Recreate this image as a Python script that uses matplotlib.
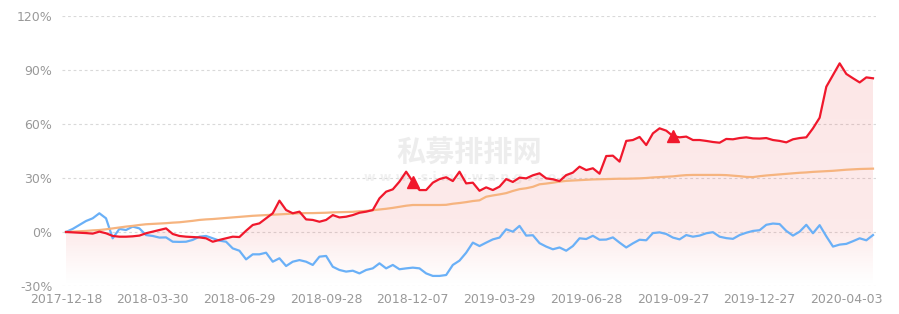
import numpy as np
import matplotlib
matplotlib.use('Agg')
import matplotlib.pyplot as plt
from matplotlib.patches import Polygon

# weekly cumulative returns (%)
fund = [
    0, -0.2, -0.4, -0.6, -0.9, 0.2, -0.7, -2.2, -2.6, -2.6,
    -2.4, -2.0, -0.7, 0.2, 1.1, 2.0, -1.1, -2.2, -2.6, -2.8,
    -3.0, -3.5, -5.4, -4.4, -3.5, -2.6, -2.8, 0.7, 3.9, 4.8,
    7.6, 10.4, 17.4, 12.2, 10.4, 11.3, 7.0, 6.7, 5.7, 6.7,
    9.4, 8.1, 8.5, 9.4, 10.7, 11.3, 12.2, 18.7, 22.4, 23.7,
    28.0, 33.5, 28.0, 23.3, 23.3, 27.4, 29.4, 30.4, 28.3, 33.5,
    27.0, 27.4, 22.9, 24.8, 23.3, 25.2, 29.4, 27.8, 30.2, 29.8,
    31.5, 32.6, 29.8, 29.3, 28.3, 31.6, 33.0, 36.3, 34.4, 35.4,
    32.4, 42.2, 42.4, 39.1, 50.6, 51.1, 52.8, 48.3, 54.8, 57.6,
    56.3, 53.3, 52.6, 53.0, 51.1, 51.1, 50.6, 50.0, 49.6, 51.7,
    51.5, 52.2, 52.6, 52.0, 51.9, 52.2, 51.1, 50.6, 49.8, 51.5,
    52.2, 52.6, 57.6, 63.5, 80.7, 87.2, 93.7, 87.8, 85.4, 83.1,
    85.9, 85.4]

index_ret = [
    0, 1.7, 3.9, 6.1, 7.6, 10.4, 7.6, -3.5, 1.7, 1.1,
    3.0, 2.0, -1.7, -2.2, -3.1, -3.0, -5.4, -5.5, -5.4, -4.4,
    -2.6, -2.2, -3.5, -4.8, -5.4, -9.1, -10.4, -15.2, -12.4, -12.4,
    -11.5, -16.5, -14.6, -18.9, -16.5, -15.6, -16.5, -18.3, -13.7, -13.3,
    -19.3, -21.1, -22.0, -21.5, -23.0, -21.1, -20.2, -17.4, -20.2, -18.3,
    -20.7, -20.2, -19.8, -20.2, -23.0, -24.4, -24.4, -23.9, -18.3, -15.9,
    -11.5, -5.9, -7.8, -5.9, -4.1, -3.1, 1.5, 0.2, 3.4, -2.0,
    -1.8, -6.2, -8.1, -9.6, -8.6, -10.4, -7.8, -3.5, -3.9, -2.1,
    -4.3, -4.2, -3.0, -5.9, -8.6, -6.3, -4.3, -4.6, -0.6, -0.2,
    -1.1, -3.1, -4.1, -1.7, -2.6, -2.0, -0.7, -0.1, -2.6, -3.4,
    -3.8, -1.7, -0.4, 0.6, 1.0, 4.0, 4.7, 4.4, 0.6, -2.0,
    0.2, 4.0, -0.7, 3.8, -2.4, -8.1, -7.0, -6.6, -5.1, -3.5,
    -4.6, -1.7]

bench = [
    0, 0.2, 0.4, 0.6, 0.9, 1.1, 1.5, 2.0, 2.5, 3.0,
    3.4, 3.9, 4.3, 4.5, 4.7, 4.9, 5.2, 5.4, 5.8, 6.2,
    6.7, 7.0, 7.2, 7.5, 7.8, 8.1, 8.4, 8.7, 9.0, 9.2,
    9.4, 9.6, 9.8, 10.0, 10.2, 10.4, 10.5, 10.5, 10.6, 10.7,
    10.9, 11.0, 11.1, 11.2, 11.5, 11.7, 12.1, 12.5, 12.9, 13.4,
    14.0, 14.6, 15.0, 15.0, 15.0, 15.0, 15.0, 15.1, 15.7, 16.1,
    16.6, 17.2, 17.6, 19.6, 20.3, 20.9, 21.6, 22.8, 23.8, 24.3,
    25.1, 26.5, 26.9, 27.4, 28.0, 28.4, 28.6, 28.8, 29.0, 29.2,
    29.3, 29.4, 29.5, 29.6, 29.6, 29.7, 29.8, 30.0, 30.3, 30.5,
    30.7, 30.9, 31.3, 31.6, 31.7, 31.7, 31.7, 31.7, 31.7, 31.6,
    31.3, 31.0, 30.6, 30.5, 31.0, 31.4, 31.7, 32.0, 32.3, 32.6,
    32.9, 33.1, 33.4, 33.6, 33.8, 34.0, 34.3, 34.6, 34.8, 35.0,
    35.1, 35.2]

date_labels = ['2017-12-18', '2018-03-30', '2018-06-29', '2018-09-28', '2018-12-07',
               '2019-03-29', '2019-06-28', '2019-09-27', '2019-12-27', '2020-04-03']
label_step = 13
buy_points = [52, 91]

yticks = [-30, 0, 30, 60, 90, 120]

RED = '#f0182c'
BLUE = '#6ab0f7'
ORANGE = '#f6b47f'
GREY = '#999999'

n = len(fund)
idx = np.arange(n)
fund = np.array(fund)

fig = plt.figure(figsize=(8.99, 3.14), dpi=100)
ax = fig.add_axes([62/899, 28/314, (876-62)/899, (286-16)/314])

# gradient area under the fund line
verts = np.column_stack([np.r_[idx, idx[::-1]], np.r_[fund, np.full(n, -30.0)]])
poly = Polygon(verts, closed=True, facecolor='none', edgecolor='none')
ax.add_patch(poly)
yy = np.linspace(-30, fund.max(), 300)
alpha = np.where(yy >= 0, 0.12 + 0.02 * yy / fund.max(), 0.12 * np.clip((yy + 30) / 30, 0, 1) ** 1.2)
grad = np.zeros((len(yy), 2, 4))
grad[..., 0] = 0.93
grad[..., 1] = 0.32
grad[..., 2] = 0.32
grad[..., 3] = alpha[:, None]
im = ax.imshow(grad, extent=[idx[0], idx[-1], -30, fund.max()], origin='lower',
               aspect='auto', interpolation='bilinear', zorder=1)
im.set_clip_path(poly)

# watermark
ax.text(0.5, 0.495, '私募排排网', transform=ax.transAxes, ha='center', va='center',
        fontsize=21, fontweight='bold', color='#ededed', zorder=0.5,
        family=['Noto Sans CJK SC', 'DejaVu Sans'])
ax.text(0.5, 0.40, 'w w w . s i m u w a n g . c o m', transform=ax.transAxes, ha='center',
        va='center', fontsize=9, fontweight='bold', color='#f1f1f1', zorder=0.5)

ax.plot(idx, index_ret, color=BLUE, lw=1.6, zorder=3)
ax.plot(idx, bench, color=ORANGE, lw=1.6, zorder=3)
ax.plot(idx, fund, color=RED, lw=1.6, zorder=4)
ax.plot(idx[buy_points], fund[buy_points], ls='none', marker='^', ms=9, color=RED, zorder=5)

ax.set_xlim(-0.6, 121.45)
ax.set_ylim(-30, 120)
ax.set_yticks(yticks)
ax.set_yticklabels(['%d%%' % v for v in yticks])
ax.set_xticks(idx[::label_step])
ax.set_xticklabels(date_labels)

for s in ax.spines.values():
    s.set_visible(False)
ax.tick_params(length=0, colors=GREY, labelsize=9)
ax.tick_params(axis='y', pad=7)
ax.tick_params(axis='x', pad=5)
ax.yaxis.grid(True, color='#d9d9d9', lw=0.8, ls=(0, (2.5, 2.5)))
ax.set_axisbelow(True)

fig.savefig('out.png', dpi=100)
